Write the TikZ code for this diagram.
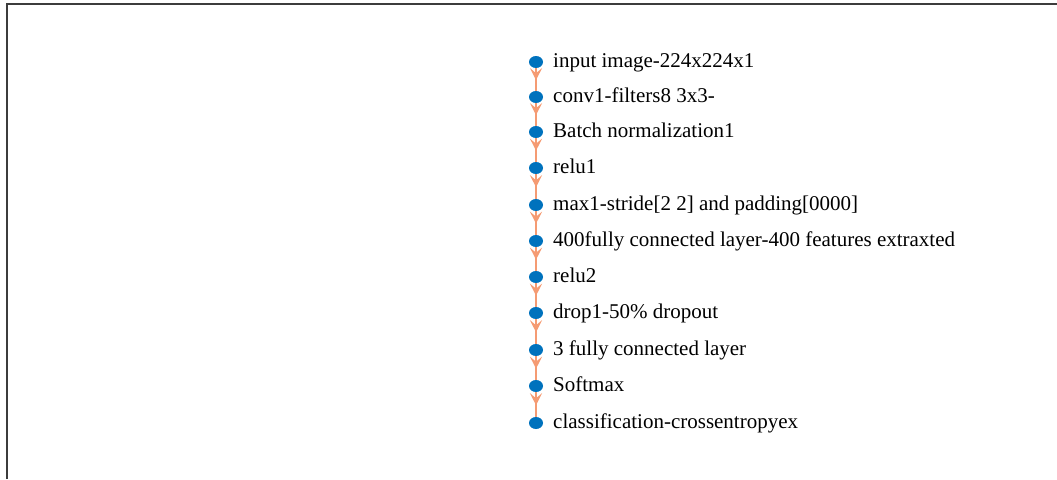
\documentclass[tikz,border=0pt]{standalone}
\usepackage{fontspec}
\setmainfont{Liberation Serif}
\usetikzlibrary{arrows.meta,decorations.markings,shapes.geometric}
\definecolor{dotblue}{RGB}{0,114,189}
\definecolor{edgeorange}{RGB}{245,155,115}
\definecolor{framegray}{RGB}{60,60,60}
\tikzset{
  layer/.style={ellipse,fill=dotblue,minimum width=14pt,minimum height=12pt,inner sep=0pt,draw=none},
  lbl/.style={anchor=base west,inner sep=0pt,font=\fontsize{21}{21}\selectfont},
  flow/.style={draw=edgeorange,line width=2.2pt,
    postaction={decorate},
    decoration={markings,mark=at position 0.52 with {\arrow[edgeorange]{Stealth[length=12pt,width=12pt,inset=5pt]}}}},
}
\begin{document}
\begin{tikzpicture}[x=1pt,y=1pt]
\useasboundingbox (0,0) rectangle (1057,-479);
\draw[framegray,line width=1.5pt] (7,-479) -- (7,-4) -- (1057,-4);
\foreach \n/\yy/\t in {
  n1/62/{input image-224x224x1},
  n2/97/{conv1-filters8 3x3-},
  n3/132/{Batch normalization1},
  n4/168/{relu1},
  n5/205/{max1-stride[2 2] and padding[0000]},
  n6/241/{400fully connected layer-400 features extraxted},
  n7/277/{relu2},
  n8/313/{drop1-50\% dropout},
  n9/350/{3 fully connected layer},
  n10/386/{Softmax},
  n11/423/{classification-crossentropyex}}{
  \coordinate (\n) at (536,-\yy);
  \node[lbl] (\n t) at (553,-\yy-5) {\t};
}
\foreach \a/\b in {n1/n2,n2/n3,n3/n4,n4/n5,n5/n6,n6/n7,n7/n8,n8/n9,n9/n10,n10/n11}{
  \draw[flow] (\a) -- (\b);
}
\foreach \n in {n1,n2,n3,n4,n5,n6,n7,n8,n9,n10,n11}{
  \node[layer] at (\n) {};
}
\end{tikzpicture}
\end{document}
